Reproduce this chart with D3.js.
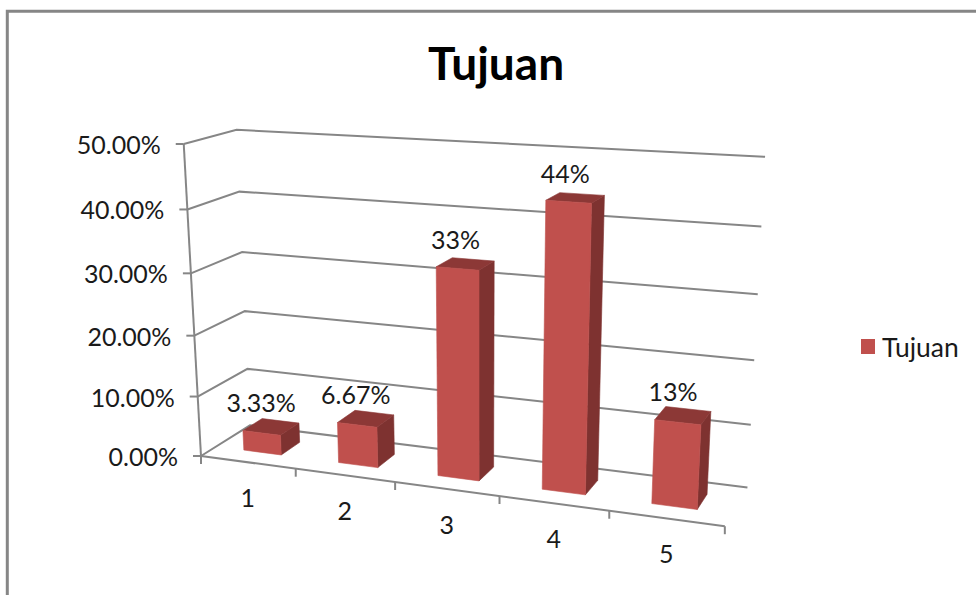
<!DOCTYPE html>
<html lang="id">
<head>
<meta charset="utf-8">
<title>Tujuan</title>
<script src="https://d3js.org/d3.v7.min.js" charset="utf-8"></script>
<style type="text/css">
html, body { margin: 0; padding: 0; background: #fff; }
svg { display: block; }
svg text { font-family: Lato, 'Open Sans', sans-serif; fill: #1a1a1a; }
</style>
</head>
<body>
<div id="chart"></div>
<script type="text/javascript">
const chartTitle = "Tujuan";
const categories = ["1", "2", "3", "4", "5"];
const values = [3.33, 6.67, 33, 44, 13];
const valueLabels = ["3.33%", "6.67%", "33%", "44%", "13%"];
const yTicks = [0, 10, 20, 30, 40, 50];
const yTickLabels = ["0.00%", "10.00%", "20.00%", "30.00%", "40.00%", "50.00%"];

const width = 976, height = 595;
const gridColor = "#868686";

const svg = d3.select("#chart").append("svg")
  .attr("width", width)
  .attr("height", height)
  .attr("viewBox", [0, 0, width, height]);

// outer chart border, cut off by the page on the right and at the bottom
svg.append("path")
  .attr("d", `M7.3,${height}V11.3H${width}`)
  .attr("fill", "none")
  .attr("stroke", gridColor)
  .attr("stroke-width", 3);

// plot box coordinates run 0..1 on each side, then go through a perspective camera
const uScale = d3.scaleLinear().domain([0, categories.length]).range([0, 1]);
const band = d3.scaleBand().domain(categories).range([0, 1]).paddingInner(0.6).paddingOuter(0.3);
const vScale = d3.scaleLinear().domain([0, 50]).range([0, 1]);

// origin, then vanishing point and weight of each box axis
const origin = [201, 456];
const camU = { vp: [-3760, -75], k: -0.1168 };
const camV = { vp: [480, 5500], k: -0.05825 };
const camW = { vp: [1090, -100], k: 0.0583 };

function project(u, v, w) {
  const a = u * camU.k, b = v * camV.k, c = w * camW.k;
  const d = 1 + a + b + c;
  return [
    (origin[0] + a * camU.vp[0] + b * camV.vp[0] + c * camW.vp[0]) / d,
    (origin[1] + a * camU.vp[1] + b * camV.vp[1] + c * camW.vp[1]) / d
  ];
}

const line = d3.line();
const polygon = pts => line(pts) + "Z";

// walls and floor
const grid = svg.append("g")
  .attr("fill", "none")
  .attr("stroke", gridColor)
  .attr("stroke-width", 2);

yTicks.forEach(t => {
  const v = vScale(t);
  grid.append("path").attr("d", line([project(0, v, 0), project(0, v, 1), project(1, v, 1)]));
  const p = project(0, v, 0);
  grid.append("path").attr("d", line([[p[0] - 8, p[1]], p]));
});
grid.append("path").attr("d", line([project(0, 0, 0), project(0, 1, 0)]));
grid.append("path").attr("d", line([project(0, 0, 0), project(1, 0, 0)]));

d3.range(categories.length + 1).forEach(i => {
  const p = project(uScale(i), 0, 0);
  grid.append("path").attr("d", line([p, [p[0], p[1] + 8]]));
});

// y axis labels
svg.append("g").selectAll("text")
  .data(yTicks)
  .enter()
  .append("text")
    .attr("x", t => project(0, vScale(t), 0)[0] - 23)
    .attr("y", t => project(0, vScale(t), 0)[1])
    .attr("text-anchor", "end")
    .attr("dominant-baseline", "central")
    .style("font-size", "25px")
    .text((t, i) => yTickLabels[i]);

// category labels
svg.append("g").selectAll("text")
  .data(categories)
  .enter()
  .append("text")
    .attr("x", (c, i) => project(uScale(i + 0.5), 0, 0)[0])
    .attr("y", (c, i) => project(uScale(i + 0.5), 0, 0)[1] + 35)
    .attr("text-anchor", "middle")
    .attr("dominant-baseline", "central")
    .style("font-size", "25px")
    .text(c => c);

// bars, each one a box of three visible faces
const bars = svg.append("g").selectAll("g")
  .data(values)
  .enter()
  .append("g");

const w0 = 0.3, w1 = 0.7;
const faces = [
  { fill: "#7e3230", pts: (a, b, v) => [project(b, 0, w0), project(b, 0, w1), project(b, v, w1), project(b, v, w0)] },
  { fill: "#8c3836", pts: (a, b, v) => [project(a, v, w0), project(b, v, w0), project(b, v, w1), project(a, v, w1)] },
  { fill: "#c0504d", pts: (a, b, v) => [project(a, 0, w0), project(b, 0, w0), project(b, v, w0), project(a, v, w0)] }
];

faces.forEach(face => {
  bars.append("path")
    .attr("fill", face.fill)
    .attr("stroke", face.fill)
    .attr("stroke-width", 0.6)
    .attr("d", (d, i) => {
      const a = band(categories[i]);
      return polygon(face.pts(a, a + band.bandwidth(), vScale(d)));
    });
});

// value labels sit above the centre of each bar top
bars.append("text")
  .attr("x", (d, i) => project(band(categories[i]) + band.bandwidth() / 2, vScale(d), 0.5)[0] - 10)
  .attr("y", (d, i) => project(band(categories[i]) + band.bandwidth() / 2, vScale(d), 0.5)[1] - 25)
  .attr("text-anchor", "middle")
  .attr("dominant-baseline", "central")
  .style("font-size", "25px")
  .text((d, i) => valueLabels[i]);

// title
svg.append("text")
  .attr("x", 496)
  .attr("y", 62)
  .attr("text-anchor", "middle")
  .attr("dominant-baseline", "central")
  .style("font-size", "46px")
  .style("font-weight", "bold")
  .style("fill", "#000")
  .text(chartTitle);

// legend
svg.append("rect")
  .attr("x", 861)
  .attr("y", 339)
  .attr("width", 14)
  .attr("height", 15)
  .attr("fill", "#c0504d");
svg.append("text")
  .attr("x", 882)
  .attr("y", 347)
  .attr("dominant-baseline", "central")
  .style("font-size", "26.5px")
  .text(chartTitle);
</script>
</body>
</html>
